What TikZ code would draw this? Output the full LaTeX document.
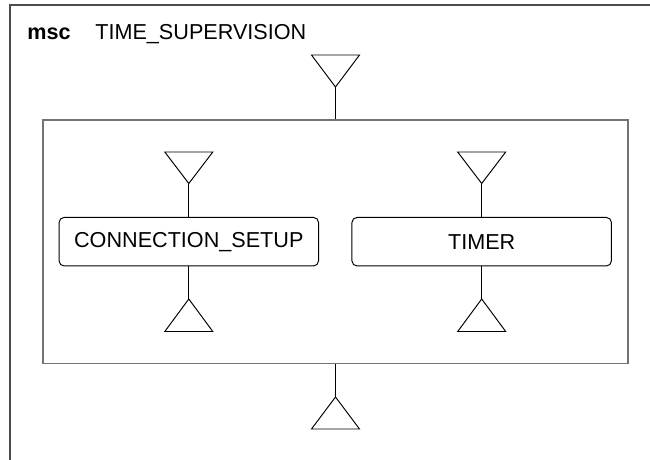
\documentclass[tikz,border=0pt]{standalone}
\usepackage{fontspec}
\setmainfont{Liberation Sans}
\usepackage{tikz}

\begin{document}
\begin{tikzpicture}[x=0.02cm, y=0.02cm]
\tikzstyle{every node}+=[inner sep=0pt, font=\fontsize{12.3}{14}\selectfont]
\tikzstyle{frame}=[draw=black!55, line width=0.9pt]
\tikzstyle{ref}=[draw=black, line width=0.55pt, rounded corners=0.1cm, minimum width=5.19cm, minimum height=0.97cm]
\tikzstyle{gate}=[draw=black, line width=0.55pt]
\useasboundingbox (0,0) rectangle (650,-460);
\draw [black!70, line width=0.6pt] (10,-460) -- (10,-5) -- (650,-5);
\node [anchor=base west] (kw) at (27,-39.5) {\textbf{msc}};
\node [anchor=base west] (title) at (95,-39.5) {TIME\_SUPERVISION};
\node [frame, minimum width=11.71cm, minimum height=4.87cm] (sup) at (335.5,-241.7) {};
\node [ref] (conn) at (188.8,-241.7) {CONNECTION\_SETUP};
\node [ref] (timer) at (481.7,-241.7) {TIMER};
\coordinate (gin) at (335.5,-87);
\coordinate (gout) at (335.5,-397);
\coordinate (cin) at (188.8,-183.5);
\coordinate (cout) at (188.8,-299);
\coordinate (tin) at (481.7,-183.5);
\coordinate (tout) at (481.7,-299);
\draw [gate] (gin) -- ++(-24,32) -- ++(48,0) -- cycle;
\draw [gate] (gout) -- ++(-24,-32) -- ++(48,0) -- cycle;
\draw [gate] (cin) -- ++(-24,31.5) -- ++(48,0) -- cycle;
\draw [gate] (cout) -- ++(-24,-32.5) -- ++(48,0) -- cycle;
\draw [gate] (tin) -- ++(-24,31.5) -- ++(48,0) -- cycle;
\draw [gate] (tout) -- ++(-24,-32.5) -- ++(48,0) -- cycle;
\draw [gate] (gin) -- (sup.north);
\draw [gate] (sup.south) -- (gout);
\draw [gate] (cin) -- (conn.north);
\draw [gate] (conn.south) -- (cout);
\draw [gate] (tin) -- (timer.north);
\draw [gate] (timer.south) -- (tout);
\end{tikzpicture}
\end{document}
